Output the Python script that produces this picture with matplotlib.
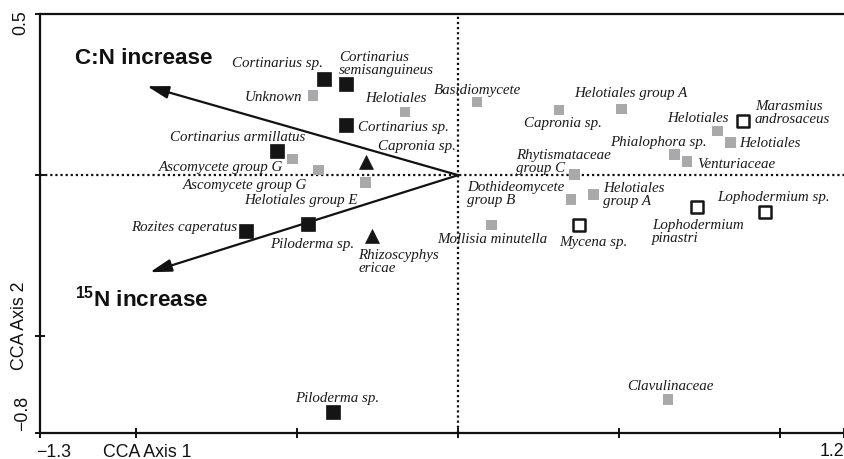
import matplotlib
matplotlib.use("Agg")
import matplotlib.pyplot as plt

plt.rcParams['mathtext.fontset'] = 'custom'
plt.rcParams['mathtext.bf'] = 'Liberation Sans:bold'
plt.rcParams['mathtext.rm'] = 'Liberation Sans:bold'
plt.rcParams['mathtext.default'] = 'bf'

# ---- data ----
names = [
    "Cortinarius sp.", "Cortinarius\nsemisanguineus", "Unknown", "Helotiales",
    "Cortinarius sp.", "Cortinarius armillatus", "Capronia sp.",
    "Ascomycete group G", "Ascomycete group G", "Helotiales group E",
    "Rozites caperatus", "Piloderma sp.", "Rhizoscyphys\nericae", "Piloderma sp.",
    "Basidiomycete", "Capronia sp.", "Helotiales group A", "Helotiales",
    "Marasmius\nandrosaceus", "Helotiales", "Phialophora sp.", "Venturiaceae",
    "Rhytismataceae\ngroup C", "Dothideomycete\ngroup B", "Helotiales\ngroup A",
    "Mollisia minutella", "Mycena sp.", "Lophodermium\npinastri",
    "Lophodermium sp.", "Clavulinaceae",
]
axis1 = [-0.417, -0.348, -0.451, -0.165, -0.348, -0.563, -0.286, -0.516, -0.435,
         -0.289, -0.659, -0.467, -0.267, -0.389, 0.059, 0.314, 0.507, 0.806,
         0.886, 0.846, 0.672, 0.712, 0.361, 0.351, 0.420, 0.103, 0.376, 0.743,
         0.955, 0.653]
axis2 = [0.298, 0.283, 0.248, 0.196, 0.155, 0.075, 0.040, 0.050, 0.016, -0.022,
         -0.174, -0.152, -0.189, -0.736, 0.227, 0.202, 0.205, 0.137, 0.168,
         0.102, 0.065, 0.043, 0.003, -0.075, -0.059, -0.155, -0.155, -0.099,
         -0.115, -0.696]
groups = ["ecm", "ecm", "gray", "gray", "ecm", "ecm", "tri", "gray", "gray", "gray",
          "ecm", "ecm", "tri", "ecm", "gray", "gray", "gray", "gray", "open",
          "gray", "gray", "gray", "gray", "gray", "gray", "gray", "open", "open",
          "open", "gray"]

env_names = ["C:N increase", "$^{15}$N increase"]
env_axis1 = [-0.967, -0.958]
env_axis2 = [0.276, -0.301]

# ---- label layout (offsets in pixels, ha) ----
label_off = [(-1, 17, 'right'), (-7, 20.5, 'left'), (-11, -1, 'right'), (-9, 14, 'center'),
             (12, -1, 'left'), (-39, 14, 'center'), (90, 17, 'right'), (-9, -7, 'right'),
             (-11, -15, 'right'), (-7, -17, 'right'), (-9, 5, 'right'), (4, -19, 'center'),
             (-14, -24.5, 'left'), (4, 15, 'center'), (0, 12, 'center'), (4, -12, 'center'),
             (10, 17, 'center'), (11, 13, 'right'), (12, 9.5, 'left'), (9, 0, 'left'),
             (33, 13, 'right'), (10, -2, 'left'), (-58, 13, 'left'), (-104, 6.5, 'left'),
             (10, 0.5, 'left'), (1, -13, 'center'), (14, -16, 'center'), (-45, -23.5, 'left'),
             (8, 16, 'center'), (2, 14, 'center')]

styles = {
    "ecm": dict(marker='s', s=90, facecolor='#151515', edgecolor='#151515', linewidths=0.5),
    "gray": dict(marker='s', s=60, facecolor='#a9a9ab', edgecolor='none'),
    "open": dict(marker='s', s=72, facecolor='white', edgecolor='#151515', linewidths=1.8),
    "tri": dict(marker='^', s=100, facecolor='#151515', edgecolor='#151515', linewidths=0.5),
}

fig = plt.figure(figsize=(8.44, 4.60), dpi=100)
ax = fig.add_axes([40/844, 26/460, 804/844, 419/460])
ax.set_xlim(-1.3, 1.2)
ax.set_ylim(-0.8, 0.5)

ax.axhline(0, color='#111111', lw=1.6, ls=(0, (1.0, 1.3)), zorder=1)
ax.axvline(0, color='#111111', lw=1.6, ls=(0, (1.0, 1.3)), zorder=1)

for g, st in styles.items():
    xs = [x for x, gg in zip(axis1, groups) if gg == g]
    ys = [y for y, gg in zip(axis2, groups) if gg == g]
    ax.scatter(xs, ys, zorder=4, **st)

for n, x, y, (dx, dy, ha) in zip(names, axis1, axis2, label_off):
    ax.annotate(n, (x, y), xytext=(dx, dy), textcoords='offset pixels',
                ha=ha, va='center', fontsize=10.8, family='Liberation Serif',
                style='italic', color='#1a1a1a', linespacing=1.0, zorder=5)

env_label_pos = [(-1.19, 0.365), (-1.19, -0.38)]
for n, x, y, (lx, ly) in zip(env_names, env_axis1, env_axis2, env_label_pos):
    ax.annotate('', xy=(x, y), xytext=(0, 0),
                arrowprops=dict(arrowstyle='-|>,head_length=1.3,head_width=0.38',
                                lw=1.6, color='#111111', shrinkA=0, shrinkB=0,
                                mutation_scale=10), zorder=3)
    ax.text(lx, ly, n, fontsize=16.2, family='Liberation Sans', fontweight='bold',
            ha='left', va='center', color='#111111')

for side in ['left', 'bottom', 'top']:
    ax.spines[side].set_linewidth(1.6)
    ax.spines[side].set_color('#111111')
ax.spines['right'].set_visible(False)

ax.set_xticks([-1.3, -1.0, -0.5, 0, 0.5, 1.0, 1.2])
ax.set_yticks([-0.8, -0.5, 0, 0.5])
ax.set_xticklabels([])
ax.set_yticklabels([])
ax.tick_params(direction='inout', length=7, width=1.4, color='#111111')

sans = dict(family='Liberation Sans', fontsize=12.8, color='#111111')
ax.text(-1.3 + 14/321.5, -0.8 - 18/322, '\u22121.3', ha='center', va='center', **sans)
ax.text(-1.0 + 11/321.5, -0.8 - 18/322, 'CCA Axis 1', ha='center', va='center', **sans)
ax.text(1.2, -0.8 - 17/322, '1.2', ha='right', va='center', **sans)
ax.text(-1.3 - 19/321.5, 0.5 - 8/322, '0.5', ha='center', va='center', rotation=90, **sans)
ax.text(-1.3 - 17/321.5, -0.8 + 21/322, '\u22120.8', ha='center', va='center', rotation=90, **sans)
ax.text(-1.3 - 20/321.5, -0.465, 'CCA Axis 2', ha='center', va='center', rotation=90, **sans)

fig.savefig('out.png', dpi=100)
